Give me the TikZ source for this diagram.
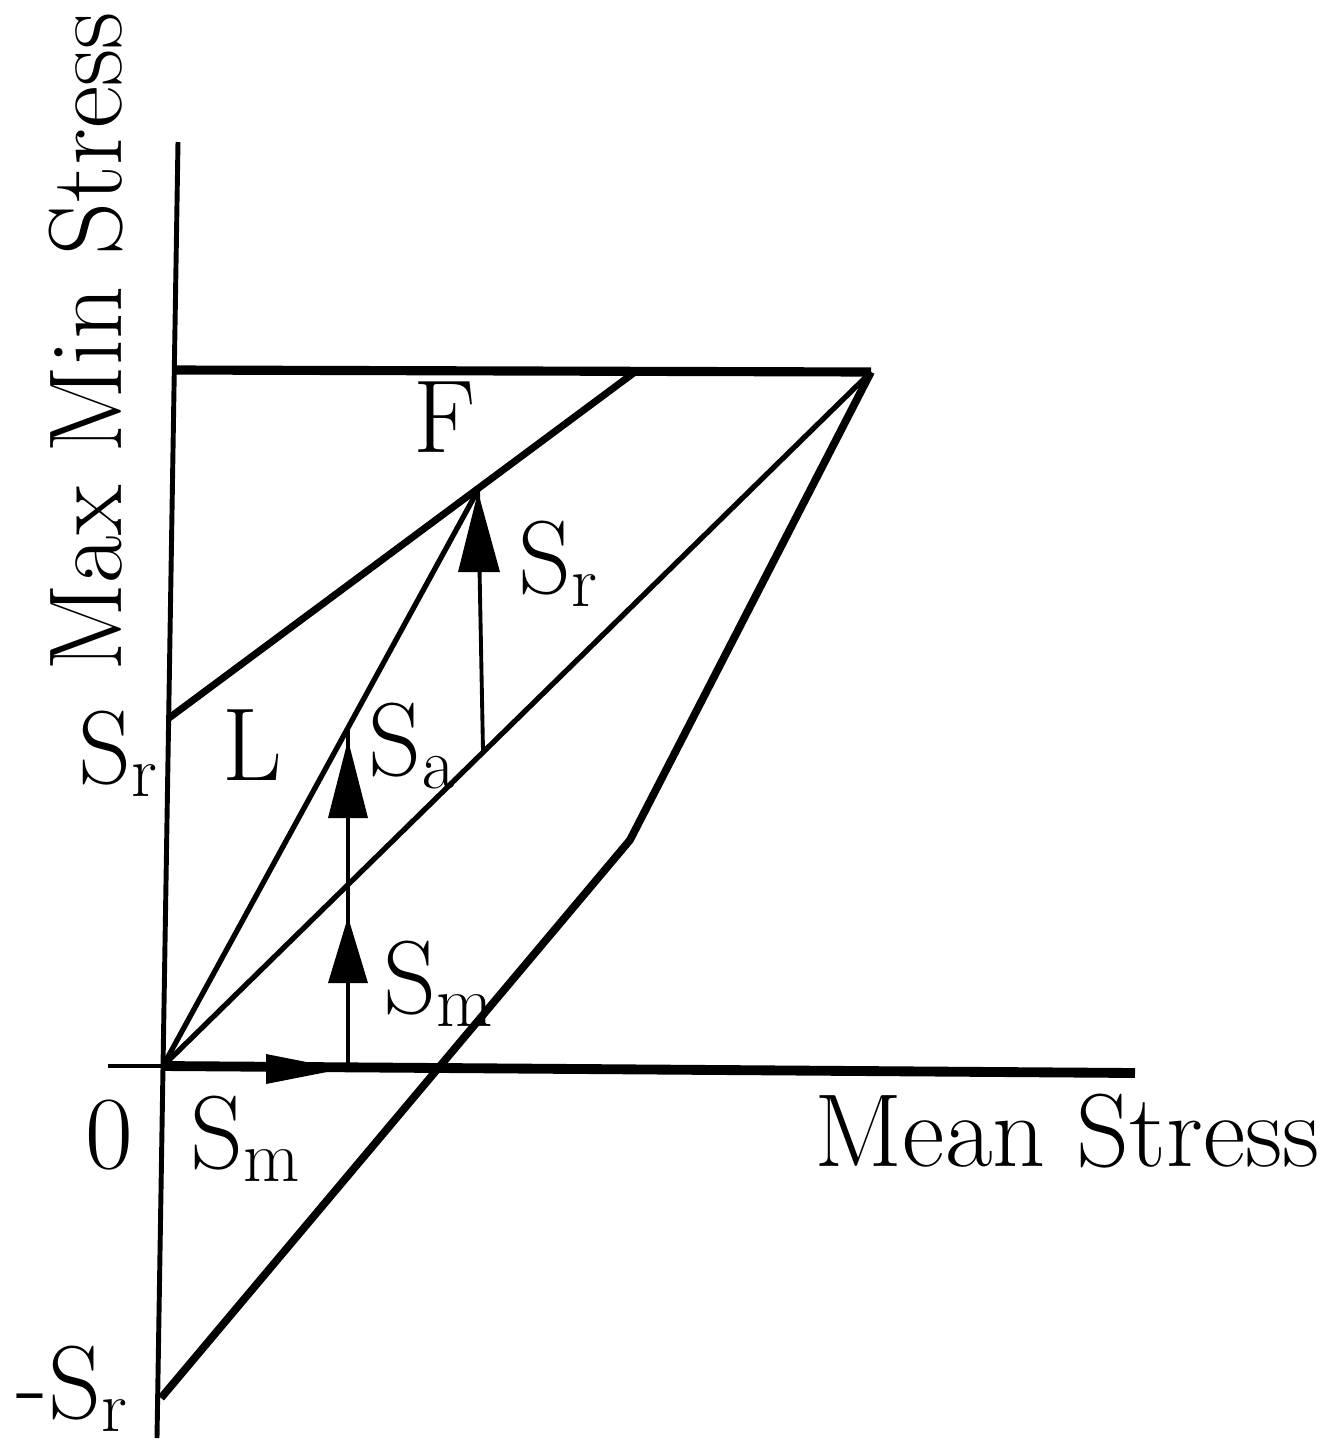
\documentclass[tikz,border=0pt]{standalone}
\begin{document}
\begin{tikzpicture}[x=0.01cm,y=-0.01cm,
  lbl/.style={inner sep=0pt, anchor=base west, font=\fontsize{29.5}{34}\selectfont},
  axisv/.style={line width=1.4pt},
  axish/.style={line width=2.8pt},
  topln/.style={line width=2.6pt},
  fln/.style={line width=2.0pt},
  diag/.style={line width=1.5pt},
  bound/.style={line width=2.2pt},
  shaft/.style={line width=1.1pt},
  head/.style={fill=black}]
\useasboundingbox (0,0) rectangle (1323,1441);
% key points
\coordinate (Top) at (178,142);
\coordinate (Bot) at (157,1438);
\coordinate (O) at (163,1066);
\coordinate (X0) at (108,1066);
\coordinate (X1) at (1135,1073);
\coordinate (T) at (176,370);
\coordinate (A) at (871,372);
\coordinate (B) at (635,372);
\coordinate (SrA) at (169,718);
\coordinate (Fp) at (478,490);
\coordinate (K) at (630,840);
\coordinate (N) at (161,1398);
\coordinate (Pa) at (483,750);
\coordinate (La) at (348,730);
\coordinate (Ma) at (348,885);
\coordinate (Mx) at (348,1067);
% axes
\draw[axisv] (Top) -- (Bot);
\draw[line width=1.2pt] (X0) -- (O);
\draw[axish] (O) -- (X1);
% top line
\draw[topln] (T) -- (A);
% F line
\draw[fln] (SrA) -- (B);
% L line and middle diagonal
\draw[diag] (O) -- (Fp);
\draw[diag] (O) -- (A);
% lower boundary
\draw[bound, line join=round] (A) -- (K) -- (N);
% arrows
\draw[shaft] (Pa) -- (Fp);
\fill[head] (478,492) -- (458,572) -- (500,572) -- cycle;
\draw[shaft] (Ma) -- (La);
\fill[head] (348,740) -- (328,818) -- (368,818) -- cycle;
\draw[shaft] (Mx) -- (Ma);
\fill[head] (348,917) -- (328,983) -- (368,983) -- cycle;
\draw[shaft] (O) -- (Mx);
\fill[head] (342,1069) -- (266,1054) -- (266,1084) -- cycle;
% labels
\node[lbl] (lSrL) at (78,783) {S$_{\mathrm{r}}$};
\node[lbl] (lSrN) at (16,1418) {-S$_{\mathrm{r}}$};
\node[lbl] (l0) at (85,1168) {0};
\node[lbl] (lSmB) at (190,1168) {S$_{\mathrm{m}}$};
\node[lbl] (lMean) at (814,1166) {Mean Stress};
\node[lbl, rotate=90] (lMax) at (121,672) {Max Min Stress};
\node[lbl] (lF) at (413,452) {F};
\node[lbl] (lSrR) at (518,593) {S$_{\mathrm{r}}$};
\node[lbl] (lL) at (222,780) {L};
\node[lbl] (lSa) at (368,775) {S$_{\mathrm{a}}$};
\node[lbl] (lSm) at (383,1013) {S$_{\mathrm{m}}$};
\end{tikzpicture}
\end{document}
